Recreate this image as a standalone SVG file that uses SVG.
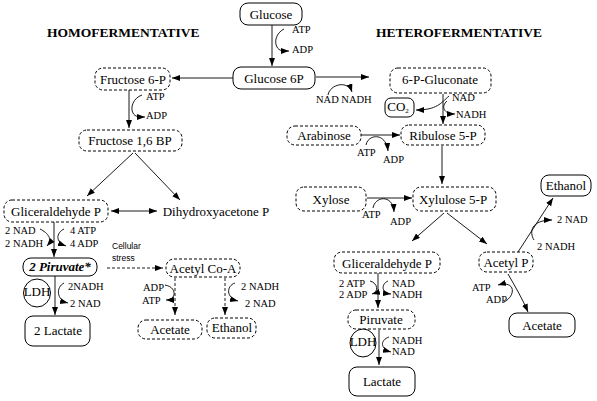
<svg xmlns="http://www.w3.org/2000/svg" width="597" height="401" viewBox="0 0 597 401">
<defs>
<marker id="ah" markerUnits="userSpaceOnUse" markerWidth="9" markerHeight="7" refX="8" refY="3" orient="auto-start-reverse">
<path d="M0,0 L8,3 L0,6 z" fill="#000"/>
</marker>
</defs>
<style>
.s{fill:#fff;stroke:#000;stroke-width:1}
.d{fill:#fff;stroke:#000;stroke-width:1;stroke-dasharray:3,2}
.t{font-family:"Liberation Serif",serif;font-size:13px;fill:#000;text-anchor:middle}
.m{font-family:"Liberation Serif",serif;font-size:10.5px;fill:#000}
.h{font-family:"Liberation Serif",serif;font-size:13.5px;font-weight:bold;fill:#000}
.c{fill:none;stroke:#000;stroke-width:0.9}
.a{marker-end:url(#ah)}
.dl{stroke-dasharray:3,2}
</style>
<rect width="597" height="401" fill="#fff"/>
<text class="h" x="47" y="37">HOMOFERMENTATIVE</text>
<text class="h" x="376" y="37">HETEROFERMENTATIVE</text>

<g id="connectors">
<path class="c a" d="M272,25 V66"/>
<path class="c a" d="M284,29 C276,33 274,42 277,47 C279,51 283,51 289,51"/>
<path class="c a" d="M233,78 H172"/>
<path class="c a" d="M129,90 V128"/>
<path class="c a" d="M142,95 C133,98 130,108 133,113 C135,117 139,117 145,117"/>
<path class="c a" d="M133,153 L87,196"/>
<path class="c a" d="M135,153 L180,200"/>
<path class="c a" d="M111,211 L157,211" marker-start="url(#ah)"/>
<path class="c a" d="M54,222 V257"/>
<path class="c a" d="M40,229 C48,233 53,239 47,246"/>
<path class="c a" d="M64,229 C56,233 55,242 66,246"/>
<path class="c a dl" d="M107,268 H163"/>
<path class="c a" d="M55,276 V315"/>
<path class="c a" d="M64,283 C56,287 56,300 68,303"/>
<path class="c a dl" d="M175,278 V315"/>
<path class="c a" d="M165,285 C177,287 177,300 166,300"/>
<path class="c a dl" d="M225,278 V315"/>
<path class="c a" d="M235,283 C226,286 226,298 238,301"/>

<path class="c a" d="M316,77 H369"/>
<path class="c a" d="M328,95 C330,84 348,80 352,92"/>
<path class="c a" d="M443,94 V124"/>
<path class="c a" d="M449,96 C441,103 437,110 416,110"/>
<path class="c a" d="M447,101 C441,106 443,114 455,114"/>
<path class="c a" d="M361,135 H400"/>
<path class="c a" d="M366,145 C368,134 386,132 388,151"/>
<path class="c a" d="M442,146 V184"/>
<path class="c a" d="M367,198 H412"/>
<path class="c a" d="M373,208 C375,196 393,194 394,212"/>
<path class="c a" d="M444,213 L412,241"/>
<path class="c a" d="M447,213 L487,244"/>
<path class="c a" d="M378,273 V308"/>
<path class="c a" d="M370,281 C378,283 379,292 372,294"/>
<path class="c a" d="M388,281 C381,284 381,293 391,294"/>
<path class="c a" d="M379,330 V365"/>
<path class="c a" d="M389,337 C380,340 380,349 391,352"/>
<path class="c a" d="M518,252 L553,198"/>
<path class="c a" d="M534,240 C529,232 531,220 552,220"/>
<path class="c a" d="M508,274 C516,288 522,298 528,312"/>
<path class="c a" d="M504,302 C516,296 516,280 498,285"/>
</g>

<g id="labels">
<text class="m" x="292" y="33">ATP</text>
<text class="m" x="292" y="53">ADP</text>
<text class="m" x="146" y="100">ATP</text>
<text class="m" x="146" y="119">ADP</text>
<text class="m" x="5" y="234">2 NAD</text>
<text class="m" x="5" y="247">2 NADH</text>
<text class="m" x="70" y="234">4 ATP</text>
<text class="m" x="70" y="247">4 ADP</text>
<text x="112" y="249" font-family="Liberation Sans,sans-serif" font-size="8.5">Cellular</text>
<text x="112" y="261" font-family="Liberation Sans,sans-serif" font-size="8.5">stress</text>
<text class="m" x="68" y="290">2NADH</text>
<text class="m" x="70" y="307">2 NAD</text>
<text class="m" x="143" y="291">ADP</text>
<text class="m" x="142" y="304">ATP</text>
<text class="m" x="241" y="290">2 NADH</text>
<text class="m" x="245" y="307">2 NAD</text>
<text class="m" x="316" y="103">NAD NADH</text>
<text class="m" x="452" y="101">NAD</text>
<text class="m" x="456" y="118">NADH</text>
<text class="m" x="357" y="156">ATP</text>
<text class="m" x="383" y="163">ADP</text>
<text class="m" x="362" y="218">ATP</text>
<text class="m" x="390" y="225">ADP</text>
<text class="m" x="339" y="287">2 ATP</text>
<text class="m" x="339" y="298">2 ADP</text>
<text class="m" x="392" y="287">NAD</text>
<text class="m" x="392" y="298">NADH</text>
<text class="m" x="392" y="344">NADH</text>
<text class="m" x="392" y="355">NAD</text>
<text class="m" x="557" y="223">2 NAD</text>
<text class="m" x="537" y="250">2 NADH</text>
<text class="m" x="472" y="291">ATP</text>
<text class="m" x="486" y="303">ADP</text>
</g>

<g id="glucose"><rect class="s" x="240" y="3" width="62" height="22" rx="8"/><text class="t" x="271" y="19">Glucose</text></g>
<g id="glucose6p"><rect class="s" x="233" y="67" width="82" height="22" rx="8"/><text class="t" x="274" y="83">Glucose 6P</text></g>
<g id="fructose6p"><rect class="d" x="95" y="68" width="75" height="22" rx="8"/><text class="t" x="133" y="84">Fructose 6-P</text></g>
<g id="fructose16bp"><rect class="d" x="79" y="130" width="103" height="21" rx="8"/><text class="t" x="130" y="145">Fructose 1,6 BP</text></g>
<g id="glic-homo"><rect class="d" x="4" y="200" width="104" height="22" rx="8"/><text class="t" x="56" y="216">Gliceraldehyde P</text></g>
<g id="dhap"><text class="t" x="216" y="216">Dihydroxyacetone P</text></g>
<g id="piruvate-homo"><rect class="s" x="23" y="258" width="74" height="18" rx="8"/><text class="t" x="60" y="271" font-weight="bold" font-style="italic">2 Piruvate*</text></g>
<g id="acetylcoa"><rect class="d" x="166" y="259" width="74" height="18" rx="8"/><text class="t" x="203" y="273">Acetyl Co-A</text></g>
<g id="ldh-homo"><ellipse class="s" cx="37" cy="293" rx="13.5" ry="14"/><text class="t" x="37" y="296" font-size="9">LDH</text></g>
<g id="lactate-homo"><rect class="s" x="25" y="316" width="65" height="30" rx="8"/><text class="t" x="58" y="335">2 Lactate</text></g>
<g id="acetate-homo"><rect class="d" x="138" y="320" width="64" height="19" rx="8"/><text class="t" x="170" y="334">Acetate</text></g>
<g id="ethanol-homo"><rect class="d" x="207" y="318" width="49" height="20" rx="8"/><text class="t" x="232" y="332">Ethanol</text></g>

<g id="gluconate"><rect class="d" x="390" y="68" width="101" height="25" rx="8"/><text class="t" x="440" y="84">6-P-Gluconate</text></g>
<g id="co2"><rect class="s" x="385" y="98" width="29" height="19" rx="6"/><text class="t" x="398" y="111" font-size="10">CO<tspan font-size="7" dy="2">2</tspan></text></g>
<g id="ribulose"><rect class="d" x="401" y="125" width="84" height="20" rx="8"/><text class="t" x="443" y="140">Ribulose 5-P</text></g>
<g id="arabinose"><rect class="d" x="287" y="126" width="74" height="19" rx="8"/><text class="t" x="324" y="140">Arabinose</text></g>
<g id="xylose"><rect class="d" x="296" y="187" width="70" height="24" rx="8"/><text class="t" x="331" y="204">Xylose</text></g>
<g id="xylulose"><rect class="d" x="413" y="187" width="83" height="24" rx="8"/><text class="t" x="453" y="204">Xylulose 5-P</text></g>
<g id="glic-hetero"><rect class="d" x="334" y="252" width="106" height="21" rx="8"/><text class="t" x="387" y="268">Gliceraldehyde P</text></g>
<g id="piruvate-hetero"><rect class="d" x="348" y="310" width="67" height="19" rx="8"/><text class="t" x="381" y="324">Piruvate</text></g>
<g id="ldh-hetero"><ellipse class="s" cx="363" cy="343" rx="13" ry="14"/><text class="t" x="363" y="346" font-size="9">LDH</text></g>
<g id="lactate-hetero"><rect class="s" x="349" y="367" width="66" height="29" rx="8"/><text class="t" x="382" y="386">Lactate</text></g>
<g id="acetylp"><rect class="d" x="479" y="252" width="54" height="20" rx="8"/><text class="t" x="506" y="267">Acetyl P</text></g>
<g id="ethanol-hetero"><rect class="s" x="541" y="175" width="50" height="21" rx="8"/><text class="t" x="566" y="190">Ethanol</text></g>
<g id="acetate-hetero"><rect class="s" x="509" y="313" width="66" height="24" rx="8"/><text class="t" x="542" y="330">Acetate</text></g>
</svg>
